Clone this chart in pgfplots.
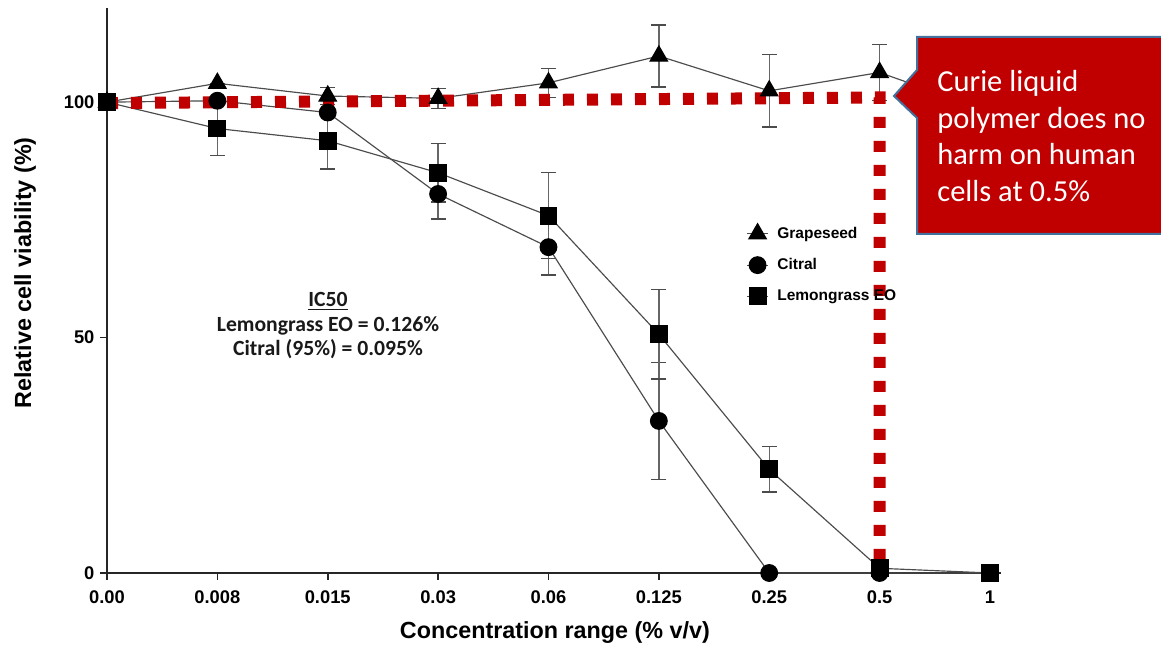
\documentclass[border=0pt]{standalone}
\usepackage{fontspec}
\setmainfont{Liberation Sans}
\newfontfamily\calibri{Carlito}
\usepackage{pgfplots}
\usepackage{pgfplotstable}
\pgfplotsset{compat=1.18}
\definecolor{calred}{HTML}{C00000}
\definecolor{calblue}{HTML}{41719C}

\pgfplotstableread{
x y e
0 100 0
1 104.0 0
2 101.3 1.8
3 100.8 2.1
4 104.1 3.1
5 109.8 6.6
6 102.4 7.7
7 106.3 6.0
8 98.0 0
}\grape
\pgfplotstableread{
x y e
0 100 0
1 100.3 0
2 97.8 0
3 80.5 5.3
4 69.2 5.9
5 32.3 12.4
6 0 0
7 0 0
8 0 0
}\citral
\pgfplotstableread{
x y e
0 100 0
1 94.4 5.7
2 91.8 6.0
3 85.0 6.2
4 75.9 9.1
5 50.7 9.5
6 22.0 4.8
7 1.0 0
8 0 0
}\lemon

\begin{document}
\begin{tikzpicture}
\path[use as bounding box] (0,0) rectangle (696.6pt,387pt);
\begin{axis}[
  at={(64.2pt,43.2pt)}, anchor=south west,
  scale only axis, width=536.4pt, height=339pt,
  xmin=0, xmax=8.1, ymin=0, ymax=120,
  axis x line=bottom, axis y line=left,
  axis line style={-, line width=1.2pt, black!85},
  xtick={0,...,8},
  xticklabels={0.00,0.008,0.015,0.03,0.06,0.125,0.25,0.5,1},
  ytick={0,50,100},
  tick align=outside, major tick length=4pt,
  tick style={line width=1pt, black!85},
  ticklabel style={font=\bfseries\fontsize{11}{13}\selectfont},
  xticklabel style={yshift=-3.2pt},
  /pgf/number format/assume math mode=true,
  xlabel={Concentration range (\% v/v)},
  ylabel={Relative cell viability (\%)},
  label style={font=\bfseries\fontsize{14}{16}\selectfont},
  xlabel style={at={(axis description cs:0.501,-0.106)}, anchor=center},
  ylabel style={at={(axis description cs:-0.0917,0.531)}, anchor=center},
  clip=false,
  legend cell align=left,
  legend style={at={(axis description cs:0.709,0.625)}, anchor=north west,
    draw=none, fill=none, font=\bfseries\fontsize{9.3}{11}\selectfont, row sep=6.6pt,
    /tikz/every odd column/.append style={column sep=3pt}},
  legend image code/.code={\draw[#1, mark repeat=2, mark phase=2] plot coordinates {(0pt,0pt) (6.5pt,0pt) (13pt,0pt)};},
  every axis plot/.append style={black!70, line width=0.7pt,
    mark options={fill=black, draw=black, solid}},
  error bars/error bar style={line width=0.8pt, black!60},
  error bars/error mark options={rotate=90, mark size=4.5pt, line width=0.8pt, black!70},
]
\addplot[mark=triangle*, mark size=6pt, error bars/.cd, y dir=both, y explicit]
  table[x=x, y=y, y error=e]{\grape};
\addplot[mark=*, mark size=5pt, error bars/.cd, y dir=both, y explicit]
  table[x=x, y=y, y error=e]{\citral};
\addplot[mark=square*, mark size=5pt, error bars/.cd, y dir=both, y explicit]
  table[x=x, y=y, y error=e]{\lemon};
\legend{Grapeseed, Citral, Lemongrass EO}
\addplot[calred, line width=7.2pt, dash pattern=on 6.6pt off 7.8pt, no markers, forget plot]
  coordinates {(0,99.8) (7,101) (7,0.8)};
\end{axis}
\begin{scope}[x=0.6pt, y=-0.6pt, shift={(0,387pt)}]
  \draw[calblue, line width=1.2pt, fill=calred]
    (1180,37) -- (917,37) -- (917,70) -- (894,96) -- (917,118) -- (917,234) -- (1180,234) -- cycle;
  \begin{scope}[every node/.style={anchor=base west, inner sep=0pt, text=white,
      font=\calibri\fontsize{18.3}{22}\selectfont}]
    \node at (937,92) {Curie liquid};
    \node at (937,128.5) {polymer does no};
    \node at (937,165) {harm on human};
    \node at (937,201.5) {cells at 0.5\%};
  \end{scope}
  \begin{scope}[every node/.style={anchor=base, inner sep=0pt, text=black!90,
      font=\calibri\bfseries\fontsize{13}{15}\selectfont}]
    \node at (328,306.7) {\underline{IC50}};
    \node at (328,331.7) {Lemongrass EO = 0.126\%};
    \node at (328,356) {Citral (95\%) = 0.095\%};
  \end{scope}
\end{scope}
\end{tikzpicture}
\end{document}
